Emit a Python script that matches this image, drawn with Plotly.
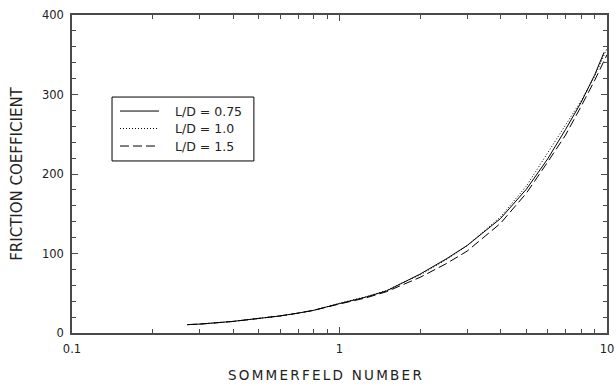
import plotly.graph_objects as go

# Sommerfeld number and friction coefficient for three bearing aspect ratios
s_075 = [0.27, 0.3, 0.4, 0.5, 0.6, 0.7, 0.8, 1.0, 1.25, 1.5, 1.7, 2.0, 2.5, 3.0, 4.0, 5.0, 6.0, 7.0, 8.0, 9.0, 9.75]
f_075 = [10.5, 11.2, 14.6, 18.0, 21.5, 25.0, 28.5, 37.0, 45.0, 53.0, 62.0, 74.0, 93.0, 110.0, 144.0, 181.0, 219.0, 256.0, 290.0, 325.0, 353.0]

s_10 = [0.27, 0.3, 0.4, 0.5, 0.6, 0.7, 0.8, 1.0, 1.25, 1.5, 1.7, 2.0, 2.5, 3.0, 4.0, 5.0, 6.0, 7.0, 8.0, 9.0, 10.0]
f_10 = [10.5, 11.2, 14.6, 18.0, 21.5, 25.0, 28.5, 37.5, 45.5, 53.5, 62.5, 73.0, 92.0, 110.0, 146.0, 185.0, 227.0, 262.0, 292.0, 323.0, 358.0]

s_15 = [0.27, 0.3, 0.4, 0.5, 0.6, 0.7, 0.8, 1.0, 1.25, 1.5, 1.7, 2.0, 2.5, 3.0, 4.0, 5.0, 6.0, 7.0, 8.0, 9.0, 10.0]
f_15 = [10.5, 11.2, 14.5, 18.0, 21.5, 25.0, 28.5, 36.5, 44.0, 52.0, 60.0, 70.0, 87.0, 103.0, 138.0, 176.0, 215.0, 249.0, 285.0, 318.0, 350.0]

series_names = ["L/D = 0.75", "L/D = 1.0", "L/D = 1.5"]
series_dash = ["solid", "1px,2px", "9px,4px"]

x_tickvals = [0.1, 1, 10]
x_ticktext = ["0.1", "1", "10"]
y_tickvals = [0, 100, 200, 300, 400]

FONT = "DejaVu Sans, Verdana, sans-serif"
AXIS = "#4a4a4a"
TEXT = "#222222"


def spaced(text, gap="\u2006"):
    """Open up the letter spacing of a title with narrow space characters."""
    return (gap + " " + gap).join(gap.join(word) for word in text.split(" "))


fig = go.Figure()
for xs, ys, name, dash in zip([s_075, s_10, s_15], [f_075, f_10, f_15], series_names, series_dash):
    fig.add_trace(go.Scatter(x=xs, y=ys, mode="lines", name=name, showlegend=False,
                             line=dict(color="black", width=1, dash=dash)))

# Boxed key in the upper left of the plotting area
box_x0, box_x1, box_y0, box_y1 = 0.0748, 0.340, 0.541, 0.742
row_y = [0.698, 0.643, 0.588]
fig.add_shape(type="rect", xref="paper", yref="paper",
              x0=box_x0, x1=box_x1, y0=box_y0, y1=box_y1,
              line=dict(color="black", width=1), fillcolor="white", layer="above")
for y, name, dash in zip(row_y, series_names, series_dash):
    fig.add_shape(type="line", xref="paper", yref="paper",
                  x0=0.0897, x1=0.1626, y0=y, y1=y,
                  line=dict(color="black", width=1, dash=dash), layer="above")
    fig.add_annotation(xref="paper", yref="paper", x=0.1888, y=y,
                       xanchor="left", yanchor="middle", showarrow=False,
                       text=name, font=dict(family=FONT, size=12.5, color=TEXT))

# x-axis title, set slightly left of the plot centre
fig.add_annotation(xref="paper", yref="paper", x=0.472, y=-0.132,
                   xanchor="center", yanchor="middle", showarrow=False,
                   text=spaced("SOMMERFELD NUMBER"),
                   font=dict(family=FONT, size=13.5, color=TEXT))

fig.update_layout(
    width=616, height=386,
    margin=dict(l=72, r=9, t=15, b=53),
    paper_bgcolor="white", plot_bgcolor="white",
    font=dict(family=FONT, size=11.5, color=TEXT),
    showlegend=False,
)

fig.update_xaxes(
    type="log", range=[-1, 1], automargin=False,
    tickvals=x_tickvals, ticktext=x_ticktext,
    ticks="inside", ticklen=6, tickcolor=AXIS, tickwidth=1,
    minor=dict(ticks="inside", ticklen=4, tickcolor=AXIS, dtick="D1", showgrid=False),
    showline=True, linecolor=AXIS, linewidth=1.5, mirror="ticks",
    showgrid=False, zeroline=False, ticklabelstandoff=4,
)
fig.update_yaxes(
    range=[0, 400], automargin=False,
    tickvals=y_tickvals,
    ticks="inside", ticklen=6, tickcolor=AXIS, tickwidth=1,
    minor=dict(ticks="inside", ticklen=4, tickcolor=AXIS, dtick=20, showgrid=False),
    showline=True, linecolor=AXIS, linewidth=1.5, mirror="ticks",
    showgrid=False, zeroline=False, ticklabelstandoff=4,
    title=dict(text="FRICTION COEFFICIENT", font=dict(size=15), standoff=16),
)

fig.write_html("out.html")
